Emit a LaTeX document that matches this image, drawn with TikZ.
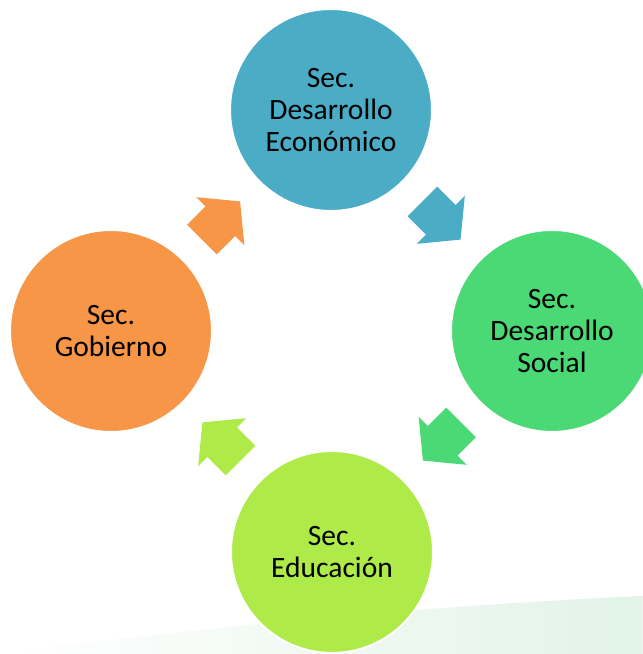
\documentclass[tikz,border=0pt]{standalone}
\usepackage{fontspec}
\setmainfont{Carlito}
\definecolor{SecBlue}   {RGB}{75,172,198}
\definecolor{SecGreen}  {RGB}{74,217,116}
\definecolor{SecLime}   {RGB}{174,234,72}
\definecolor{SecOrange} {RGB}{247,150,70}
\definecolor{BandMint}  {RGB}{226,243,232}
\usetikzlibrary{calc,fadings}

\begin{document}
\begin{tikzpicture}[x=1pt,y=1pt,
  sec/.style={circle,draw=white,line width=2pt,minimum size=202pt,
              inner sep=0pt,align=center,
              font=\fontsize{29.5}{32}\selectfont}]
  \useasboundingbox (0,0) rectangle (643,654);
  % faint band at the bottom
  \fill[BandMint,path fading=west]
       (0,0) -- (0,2) .. controls (180,22) and (380,46) .. (643,58)
       -- (643,0) -- cycle;
  \node[sec,fill=SecBlue]  (eco) at (331,544){Sec.\\Desarrollo\\Económico};
  \node[sec,fill=SecGreen] (soc) at (552,323){Sec.\\Desarrollo\\Social};
  \node[sec,fill=SecLime]  (edu) at (332,102){Sec.\\Educación};
  \node[sec,fill=SecOrange](gob) at (111,323){Sec.\\Gobierno};
  % block arrows between the circles
  \foreach \a/\b/\ang/\col in {gob/eco/45/SecOrange,eco/soc/-45/SecBlue,
                               soc/edu/-135/SecGreen,edu/gob/135/SecLime}
    \fill[\col,shift={($(\a)!0.5!(\b)$)},rotate=\ang]
         (-27,-21) -- (-1,-21) -- (-1,-34) -- (27,0) -- (-1,34)
         -- (-1,21) -- (-27,21) -- cycle;
\end{tikzpicture}
\end{document}
